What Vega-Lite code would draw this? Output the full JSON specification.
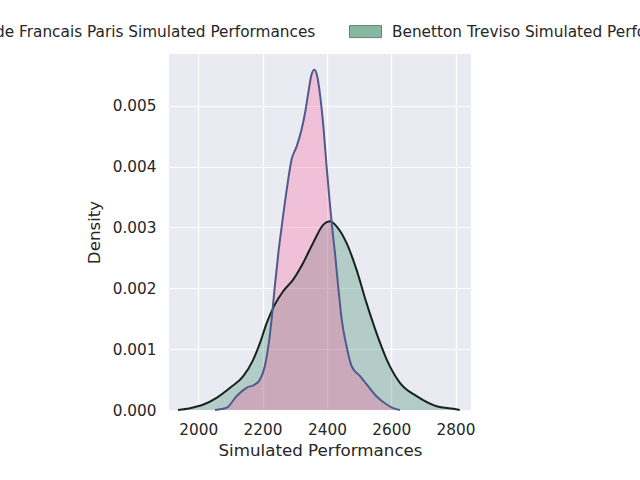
{
  "$schema": "https://vega.github.io/schema/vega-lite/v6.json",
  "width": 302,
  "height": 356,
  "autosize": {"type": "none"},
  "padding": {"left": 169, "top": 54, "right": 169, "bottom": 70},
  "background": "white",
  "config": {
    "view": {"fill": "#EAEAF2", "stroke": null},
    "font": "DejaVu Sans",
    "axis": {"domain": false, "ticks": false, "grid": true, "gridColor": "white", "gridWidth": 1.2, "labelColor": "#262626", "titleColor": "#262626", "labelFont": "DejaVu Sans", "titleFont": "DejaVu Sans", "labelFontSize": 15.3, "titleFontSize": 16.7, "titleFontWeight": "normal"}
  },
  "data": {"values": [
    {"series": "Benetton Treviso Simulated Performances", "x": 1937, "y": 0},
    {"series": "Benetton Treviso Simulated Performances", "x": 1974, "y": 0.00003},
    {"series": "Benetton Treviso Simulated Performances", "x": 2016, "y": 0.00009},
    {"series": "Benetton Treviso Simulated Performances", "x": 2057, "y": 0.0002},
    {"series": "Benetton Treviso Simulated Performances", "x": 2099, "y": 0.000365},
    {"series": "Benetton Treviso Simulated Performances", "x": 2140, "y": 0.000555},
    {"series": "Benetton Treviso Simulated Performances", "x": 2171, "y": 0.000829},
    {"series": "Benetton Treviso Simulated Performances", "x": 2192, "y": 0.001103},
    {"series": "Benetton Treviso Simulated Performances", "x": 2213, "y": 0.001432},
    {"series": "Benetton Treviso Simulated Performances", "x": 2238, "y": 0.001732},
    {"series": "Benetton Treviso Simulated Performances", "x": 2264, "y": 0.001951},
    {"series": "Benetton Treviso Simulated Performances", "x": 2295, "y": 0.002143},
    {"series": "Benetton Treviso Simulated Performances", "x": 2326, "y": 0.002417},
    {"series": "Benetton Treviso Simulated Performances", "x": 2357, "y": 0.002745},
    {"series": "Benetton Treviso Simulated Performances", "x": 2389, "y": 0.003046},
    {"series": "Benetton Treviso Simulated Performances", "x": 2409, "y": 0.0031},
    {"series": "Benetton Treviso Simulated Performances", "x": 2430, "y": 0.003018},
    {"series": "Benetton Treviso Simulated Performances", "x": 2461, "y": 0.002745},
    {"series": "Benetton Treviso Simulated Performances", "x": 2492, "y": 0.002307},
    {"series": "Benetton Treviso Simulated Performances", "x": 2523, "y": 0.00176},
    {"series": "Benetton Treviso Simulated Performances", "x": 2554, "y": 0.001268},
    {"series": "Benetton Treviso Simulated Performances", "x": 2586, "y": 0.000829},
    {"series": "Benetton Treviso Simulated Performances", "x": 2627, "y": 0.000447},
    {"series": "Benetton Treviso Simulated Performances", "x": 2679, "y": 0.000227},
    {"series": "Benetton Treviso Simulated Performances", "x": 2741, "y": 0.000062},
    {"series": "Benetton Treviso Simulated Performances", "x": 2793, "y": 0.00002},
    {"series": "Benetton Treviso Simulated Performances", "x": 2813, "y": 0},
    {"series": "Stade Francais Paris Simulated Performances", "x": 2052, "y": 0},
    {"series": "Stade Francais Paris Simulated Performances", "x": 2088, "y": 0.000036},
    {"series": "Stade Francais Paris Simulated Performances", "x": 2119, "y": 0.000227},
    {"series": "Stade Francais Paris Simulated Performances", "x": 2150, "y": 0.000365},
    {"series": "Stade Francais Paris Simulated Performances", "x": 2176, "y": 0.000419},
    {"series": "Stade Francais Paris Simulated Performances", "x": 2192, "y": 0.000501},
    {"series": "Stade Francais Paris Simulated Performances", "x": 2207, "y": 0.000719},
    {"series": "Stade Francais Paris Simulated Performances", "x": 2218, "y": 0.001048},
    {"series": "Stade Francais Paris Simulated Performances", "x": 2228, "y": 0.001486},
    {"series": "Stade Francais Paris Simulated Performances", "x": 2238, "y": 0.002033},
    {"series": "Stade Francais Paris Simulated Performances", "x": 2249, "y": 0.002581},
    {"series": "Stade Francais Paris Simulated Performances", "x": 2259, "y": 0.002997},
    {"series": "Stade Francais Paris Simulated Performances", "x": 2275, "y": 0.003621},
    {"series": "Stade Francais Paris Simulated Performances", "x": 2290, "y": 0.004113},
    {"series": "Stade Francais Paris Simulated Performances", "x": 2306, "y": 0.004332},
    {"series": "Stade Francais Paris Simulated Performances", "x": 2321, "y": 0.004606},
    {"series": "Stade Francais Paris Simulated Performances", "x": 2332, "y": 0.00488},
    {"series": "Stade Francais Paris Simulated Performances", "x": 2342, "y": 0.005209},
    {"series": "Stade Francais Paris Simulated Performances", "x": 2352, "y": 0.005509},
    {"series": "Stade Francais Paris Simulated Performances", "x": 2361, "y": 0.005591},
    {"series": "Stade Francais Paris Simulated Performances", "x": 2370, "y": 0.005481},
    {"series": "Stade Francais Paris Simulated Performances", "x": 2378, "y": 0.005209},
    {"series": "Stade Francais Paris Simulated Performances", "x": 2389, "y": 0.00466},
    {"series": "Stade Francais Paris Simulated Performances", "x": 2399, "y": 0.004003},
    {"series": "Stade Francais Paris Simulated Performances", "x": 2409, "y": 0.003402},
    {"series": "Stade Francais Paris Simulated Performances", "x": 2417, "y": 0.002964},
    {"series": "Stade Francais Paris Simulated Performances", "x": 2425, "y": 0.002581},
    {"series": "Stade Francais Paris Simulated Performances", "x": 2435, "y": 0.002033},
    {"series": "Stade Francais Paris Simulated Performances", "x": 2446, "y": 0.001486},
    {"series": "Stade Francais Paris Simulated Performances", "x": 2461, "y": 0.001048},
    {"series": "Stade Francais Paris Simulated Performances", "x": 2477, "y": 0.000719},
    {"series": "Stade Francais Paris Simulated Performances", "x": 2503, "y": 0.000555},
    {"series": "Stade Francais Paris Simulated Performances", "x": 2528, "y": 0.000391},
    {"series": "Stade Francais Paris Simulated Performances", "x": 2554, "y": 0.000227},
    {"series": "Stade Francais Paris Simulated Performances", "x": 2586, "y": 0.00009},
    {"series": "Stade Francais Paris Simulated Performances", "x": 2606, "y": 0.00003},
    {"series": "Stade Francais Paris Simulated Performances", "x": 2627, "y": 0}
  ]},
  "encoding": {
    "x": {"field": "x", "type": "quantitative", "title": "Simulated Performances",
      "scale": {"domain": [1909, 2848], "nice": false, "zero": false},
      "axis": {"values": [2000, 2200, 2400, 2600, 2800], "format": "d", "labelPadding": 12, "titlePadding": 5}},
    "y": {"field": "y", "type": "quantitative", "title": "Density", "stack": null,
      "scale": {"domain": [0, 0.00585], "nice": false},
      "axis": {"values": [0, 0.001, 0.002, 0.003, 0.004, 0.005], "format": ".3f", "labelPadding": 13, "titlePadding": 9}}
  },
  "layer": [
    {
      "mark": {"type": "area", "interpolate": "monotone", "fillOpacity": 0.3},
      "encoding": {
        "fill": {"field": "series", "type": "nominal",
          "scale": {"domain": ["Stade Francais Paris Simulated Performances", "Benetton Treviso Simulated Performances"], "range": ["#FE5E9B", "#368966"]},
          "legend": {"title": null, "orient": "none", "direction": "horizontal", "legendX": -242, "legendY": -39, "padding": 0,
            "symbolType": "M-1,-0.375H1V0.375H-1Z", "symbolSize": 1024, "symbolOpacity": 0.6, "symbolStrokeColor": "#2c6b50", "symbolStrokeWidth": 1,
            "labelFontSize": 15.3, "labelFont": "DejaVu Sans", "labelColor": "#262626", "labelLimit": 600, "labelOffset": 10, "columnPadding": 31}}
      }
    },
    {
      "mark": {"type": "line", "interpolate": "monotone", "strokeWidth": 2},
      "encoding": {
        "stroke": {"field": "series", "type": "nominal",
          "scale": {"domain": ["Stade Francais Paris Simulated Performances", "Benetton Treviso Simulated Performances"], "range": ["#4F5B8C", "#15241D"]},
          "legend": null}
      }
    }
  ]
}
